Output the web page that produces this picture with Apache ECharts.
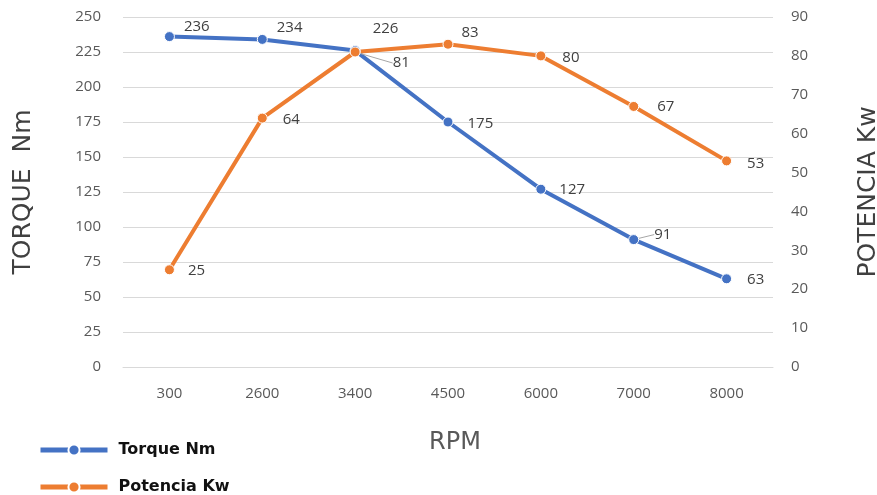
<!DOCTYPE html>
<html>
<head>
<meta charset="utf-8">
<script src="https://cdn.jsdelivr.net/npm/echarts@6/dist/echarts.min.js"></script>
<style>html,body{margin:0;padding:0;background:#fff;}#c{width:877px;height:495px;}</style>
</head>
<body>
<div id="c"></div>
<script>
var categories = ['300', '2600', '3400', '4500', '6000', '7000', '8000'];
var torque = [236, 234, 226, 175, 127, 91, 63];
var potencia = [25, 64, 81, 83, 80, 67, 53];
var torqueLabelOffsets = [[4, -10], [4, -12], [7, -22], [9, 2], [8, 1], [10, -5], [10, 1]];
var torqueLabelLines = [false, false, false, false, false, true, false];
var potenciaLabelOffsets = [[8, 1], [10, 2], [27, 11], [3, -11], [11, 2], [13, 0], [10, 3]];
var potenciaLabelLines = [false, false, true, false, false, false, false];

var chart = echarts.init(document.getElementById('c'));
function labelStyle() {
  return {show: true, position: 'right', distance: 5, fontSize: 15, color: '#404040', fontFamily: 'Open Sans'};
}
function mk(vals, lines) {
  return vals.map(function (v, i) {
    return {value: v, labelLine: {show: lines[i], lineStyle: {color: '#a6a6a6', width: 1}}};
  });
}
function layoutFn(offs) {
  return function (p) {
    var o = offs[p.dataIndex];
    return {dx: o[0], dy: o[1]};
  };
}
chart.setOption({
  animation: false,
  grid: {left: 123, right: 104, top: 17, bottom: 128, outerBoundsMode: 'none', containLabel: false},
  legend: [{
    orient: 'vertical', left: 38, top: 442, padding: 0,
    itemWidth: 67, itemHeight: 14,
    lineStyle: {width: 5},
    textStyle: {fontSize: 16, fontWeight: 'bold', color: '#111', fontFamily: 'DejaVu Sans', padding: [0, 0, 0, 6]},
    data: ['Torque Nm']
  }, {
    orient: 'vertical', left: 38, top: 479, padding: 0,
    itemWidth: 67, itemHeight: 14,
    lineStyle: {width: 5},
    textStyle: {fontSize: 16, fontWeight: 'bold', color: '#111', fontFamily: 'DejaVu Sans', padding: [0, 0, 0, 6]},
    data: ['Potencia Kw']
  }],
  xAxis: {
    type: 'category', data: categories,
    name: 'RPM', nameLocation: 'middle', nameGap: 64,
    nameTextStyle: {fontSize: 24, color: '#595959', fontFamily: 'DejaVu Sans', padding: [0, 0, 0, 14]},
    axisLine: {lineStyle: {color: '#d9d9d9'}},
    axisTick: {show: false},
    axisLabel: {fontSize: 15, color: '#595959', margin: 19, fontFamily: 'Open Sans'}
  },
  yAxis: [{
    type: 'value', min: 0, max: 250, interval: 25,
    name: 'TORQUE  Nm', nameLocation: 'middle', nameGap: 87, nameRotate: 90,
    nameTextStyle: {fontSize: 25, color: '#404040', fontFamily: 'DejaVu Sans'},
    axisLine: {show: false}, axisTick: {show: false},
    axisLabel: {fontSize: 15, color: '#595959', margin: 22, fontFamily: 'Open Sans'},
    splitLine: {lineStyle: {color: '#d9d9d9'}}
  }, {
    type: 'value', min: 0, max: 90, interval: 10,
    name: 'POTENCIA Kw', nameLocation: 'middle', nameGap: 83, nameRotate: 90,
    nameTextStyle: {fontSize: 25, color: '#404040', fontFamily: 'DejaVu Sans'},
    axisLine: {show: false}, axisTick: {show: false},
    axisLabel: {fontSize: 15, color: '#595959', margin: 18, fontFamily: 'Open Sans'},
    splitLine: {show: false}
  }],
  series: [{
    name: 'Torque Nm', type: 'line', yAxisIndex: 0,
    data: mk(torque, torqueLabelLines),
    symbol: 'circle', symbolSize: 10,
    lineStyle: {width: 4, color: '#4472C4'},
    itemStyle: {color: '#4472C4', borderColor: '#fff', borderWidth: 1},
    label: labelStyle(),
    labelLayout: layoutFn(torqueLabelOffsets)
  }, {
    name: 'Potencia Kw', type: 'line', yAxisIndex: 1,
    data: mk(potencia, potenciaLabelLines),
    symbol: 'circle', symbolSize: 10,
    lineStyle: {width: 4, color: '#ED7D31'},
    itemStyle: {color: '#ED7D31', borderColor: '#fff', borderWidth: 1},
    label: labelStyle(),
    labelLayout: layoutFn(potenciaLabelOffsets)
  }]
});
</script>
</body>
</html>
